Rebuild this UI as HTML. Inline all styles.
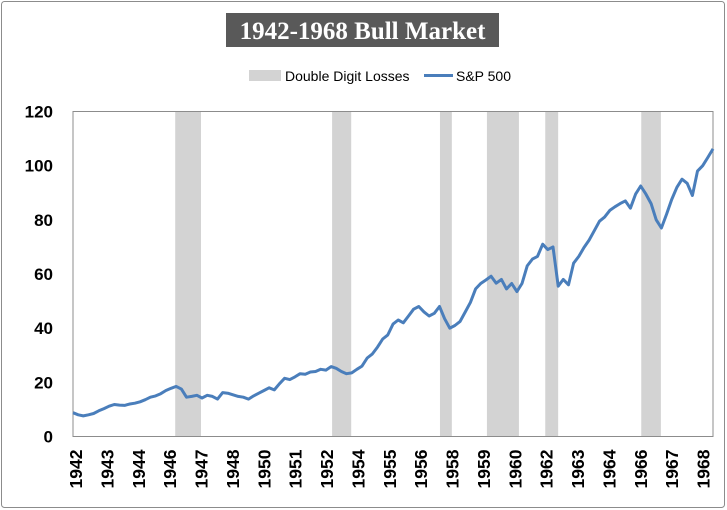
<!DOCTYPE html>
<html><head><meta charset="utf-8"><style>
body{margin:0;background:#fff;}
#wrap{position:relative;width:727px;height:510px;overflow:hidden;}
svg{position:absolute;left:0;top:0;}
</style></head><body>
<div id="wrap">
<svg id="chart" width="727" height="510">
  <rect x="1.5" y="1.5" width="723" height="506" rx="3" fill="#fff" stroke="#8c8c8c"/>
  <rect x="226" y="13" width="273" height="34" fill="#595959"/>
  <text x="362.5" y="39" text-anchor="middle" font-family="Liberation Serif, serif" font-weight="bold" font-size="25" fill="#fff">1942-1968 Bull Market</text>
  <g>
    <rect x="249" y="70" width="32" height="11" fill="#d3d3d3"/>
    <text x="285" y="81" font-family="Liberation Sans, sans-serif" font-size="14" fill="#000">Double Digit Losses</text>
    <line x1="424" y1="75.5" x2="453" y2="75.5" stroke="#4a7ebb" stroke-width="3"/>
    <text x="456" y="81" font-family="Liberation Sans, sans-serif" font-size="14" fill="#000">S&amp;P 500</text>
  </g>
  <g id="bands"></g>
  <g id="yaxis"></g>
  <g id="xaxis"></g>
  <g id="series"></g>
</svg>
</div>
<script>
const yTicks = [0, 20, 40, 60, 80, 100, 120];
const xLabels = ["1942","1943","1944","1946","1947","1948","1950","1951","1952","1954","1955","1956","1958","1959","1960","1962","1963","1964","1966","1967","1968"];
const bandStarts = [19.8, 50.2, 71.1, 80.2, 91.5, 110.1];
const bandEnds = [24.8, 53.9, 73.4, 86.4, 94.0, 113.9];
const sp500 = [8.8,8.0,7.6,8.0,8.5,9.5,10.3,11.2,11.8,11.6,11.5,12.0,12.3,12.8,13.6,14.5,15.0,15.8,17.0,17.8,
18.5,17.5,14.5,14.8,15.2,14.2,15.2,14.8,13.8,16.2,16.0,15.4,14.8,14.5,13.8,15.0,16.0,17.0,18.0,17.2,
19.5,21.5,21.0,22.0,23.2,23.0,23.8,24.0,24.8,24.5,25.8,25.2,24.0,23.2,23.5,24.8,26.0,29.0,30.5,33.0,
36.0,37.5,41.5,43.0,42.0,44.5,47.0,48.0,46.0,44.5,45.5,48.0,43.5,40.0,41.0,42.5,46.0,49.5,54.5,56.5,
57.8,59.2,56.6,58.0,54.5,56.5,53.5,56.5,63.0,65.5,66.5,71.0,69.0,70.0,55.5,58.0,56.0,64.0,66.5,69.8,
72.5,76.0,79.5,81.0,83.5,84.8,86.0,87.0,84.3,89.5,92.5,89.5,86.0,80.0,77.0,82.0,87.5,92.0,95.0,93.5,
89.0,98.0,100.0,103.0,106.2];

const NS = "http://www.w3.org/2000/svg";
const L = 73, R = 713, T = 111.5, B = 436.5;
const n = sp500.length;
const xs = i => L + i * (R - L) / (n - 1);
const ys = v => B - v * (B - T) / 120;
const labelStep = 6.08;
function mk(tag, attrs, parent){ const e = document.createElementNS(NS, tag); for (const k in attrs) e.setAttribute(k, attrs[k]); parent.appendChild(e); return e; }

const bands = document.getElementById('bands');
bandStarts.forEach((s, k) => {
  const r = mk('rect', {x: xs(s), y: T, width: xs(bandEnds[k]) - xs(s), height: B - T, fill: '#d3d3d3'}, bands);
  
  
});

const ya = document.getElementById('yaxis');
const fr = mk('rect', {x: L, y: T, width: R - L, height: B - T, fill: 'none', stroke: '#8c8c8c', 'stroke-width': 1}, ya);


yTicks.forEach(v => {
  const t = mk('text', {x: 53, y: ys(v) + 6, 'text-anchor': 'end', 'font-family': 'Liberation Sans, sans-serif', 'font-weight': 'bold', 'font-size': 17, fill: '#000'}, ya);
  t.textContent = v;
  
  
});

const xa = document.getElementById('xaxis');
xLabels.forEach((lab, k) => {
  const x = xs(k * labelStep) + 3 + 6;
  const t = mk('text', {x: 0, y: 0, transform: `translate(${x},${B + 13}) rotate(-90)`, 'text-anchor': 'end', 'font-family': 'Liberation Sans, sans-serif', 'font-weight': 'bold', 'font-size': 17.5, fill: '#000'}, xa);
  t.textContent = lab;
  
  
});

const se = document.getElementById('series');
const d = sp500.map((v, i) => (i ? 'L' : 'M') + xs(i).toFixed(1) + ',' + ys(v).toFixed(1)).join(' ');
const p = mk('path', {d: d, fill: 'none', stroke: '#4a7ebb', 'stroke-width': 3, 'stroke-linejoin': 'round'}, se);


</script>
</body></html>
